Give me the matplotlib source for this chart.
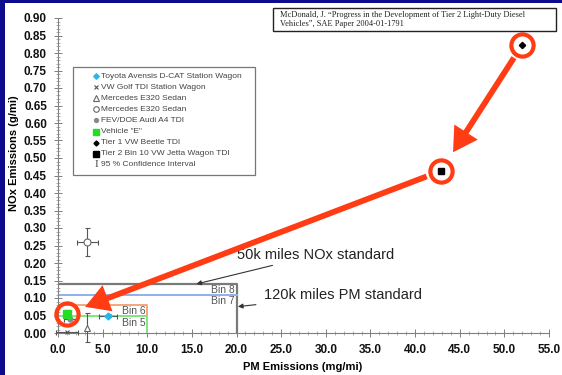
import matplotlib
matplotlib.use("Agg")
import matplotlib.pyplot as plt
from matplotlib.patches import Rectangle
from matplotlib.ticker import MultipleLocator, FormatStrFormatter

plt.rcParams['font.family'] = ['Liberation Sans', 'DejaVu Sans']

# vehicle test results (PM in mg/mi, NOx in g/mi)
vehicles = ['Toyota Avensis D-CAT Station Wagon', 'VW Golf TDI Station Wagon',
            'Mercedes E320 Sedan', 'Mercedes E320 Sedan', 'FEV/DOE Audi A4 TDI',
            'Vehicle "E"', 'Tier 1 VW Beetle TDI', 'Tier 2 Bin 10 VW Jetta Wagon TDI']
pm = [5.6, 1.0, 3.2, 3.3, 1.4, 1.0, 52.0, 42.9]
nox = [0.050, 0.003, 0.015, 0.260, 0.040, 0.055, 0.823, 0.463]
pm_err = [1.0, 1.2, 0.0, 1.2, 0.7, 0.0, 0.0, 0.0]
nox_err = [0.004, 0.0, 0.042, 0.040, 0.0, 0.012, 0.0, 0.0]

# Tier 2 bins: NOx limit (g/mi) and PM limit (mg/mi)
bin_names = ['Bin 8', 'Bin 7', 'Bin 6', 'Bin 5']
bin_nox = [0.14, 0.11, 0.08, 0.05]
bin_pm = [20.0, 20.0, 10.0, 10.0]

styles = [
    dict(marker='D', ms=3.5, mfc='#22b8f0', mec='#22b8f0'),
    dict(marker='x', ms=3.5, mfc='#555555', mec='#555555', mew=0.8),
    dict(marker='^', ms=5, mfc='white', mec='#666666', mew=0.8),
    dict(marker='o', ms=5, mfc='white', mec='#666666', mew=0.8),
    dict(marker='o', ms=3.5, mfc='#888888', mec='#888888'),
    dict(marker='s', ms=6, mfc='#22dd22', mec='#22dd22'),
    dict(marker='D', ms=3.2, mfc='black', mec='black'),
    dict(marker='s', ms=5, mfc='black', mec='black'),
]
bin_colors = ['#7a7a7a', '#8fb0ee', '#f2a878', '#7ee87e']

W, H = 562, 375
fig = plt.figure(figsize=(W / 100, H / 100), dpi=100, facecolor='#0c0c8c')
fig.add_artist(Rectangle((5 / W, 0), 1 - 5 / W, 1 - 3 / H, transform=fig.transFigure,
                         facecolor='white', edgecolor='none', zorder=-1))

ax = fig.add_axes([58 / W, 42 / H, 491 / W, 315 / H])
ax.set_facecolor('none')
ax.set_xlim(0, 55)
ax.set_ylim(0, 0.9)
for s in ['top', 'right']:
    ax.spines[s].set_visible(False)
for s in ['left', 'bottom']:
    ax.spines[s].set_color('#808080')
    ax.spines[s].set_linewidth(0.8)
ax.xaxis.set_major_locator(MultipleLocator(5))
ax.xaxis.set_minor_locator(MultipleLocator(1))
ax.yaxis.set_major_locator(MultipleLocator(0.05))
ax.yaxis.set_minor_locator(MultipleLocator(0.01))
ax.xaxis.set_major_formatter(FormatStrFormatter('%.1f'))
ax.yaxis.set_major_formatter(FormatStrFormatter('%.2f'))
ax.tick_params(which='major', direction='inout', length=6, width=0.7, color='#808080',
               labelsize=8.5, pad=5)
ax.tick_params(which='minor', direction='inout', length=3, width=0.5, color='#909090')
for lab in ax.get_xticklabels() + ax.get_yticklabels():
    lab.set_fontweight('bold')
    lab.set_color('#111111')

fig.text(14 / W, 1 - 153 / H, 'NOx Emissions (g/mi)', rotation=90, ha='center',
         va='center', fontsize=8, fontweight='bold')
fig.text(303 / W, 1 - 367 / H, 'PM Emissions (mg/mi)', ha='center', va='center',
         fontsize=8, fontweight='bold')

# standard boxes
ax.plot([0, bin_pm[0], bin_pm[0]], [bin_nox[0], bin_nox[0], 0], color=bin_colors[0], lw=1.6)
ax.plot([0, bin_pm[1]], [bin_nox[1], bin_nox[1]], color=bin_colors[1], lw=1.4)
ax.plot([0, bin_pm[2], bin_pm[2]], [bin_nox[2], bin_nox[2], bin_nox[3]], color=bin_colors[2], lw=1.4)
ax.plot([0, bin_pm[3], bin_pm[3]], [bin_nox[3], bin_nox[3], 0], color=bin_colors[3], lw=1.4)
bin_font = dict(ha='right', va='top', fontsize=7.5, color='#555555')
ax.text(bin_pm[0] - 0.2, bin_nox[0] - 0.003, bin_names[0], **bin_font)
ax.text(bin_pm[1] - 0.2, bin_nox[1] - 0.005, bin_names[1], **bin_font)
ax.text(bin_pm[2] - 0.2, bin_nox[2] - 0.002, bin_names[2], **bin_font)
ax.text(bin_pm[3] - 0.2, bin_nox[3] - 0.006, bin_names[3], **bin_font)

# vehicles with 95% confidence intervals
for i in range(len(vehicles)):
    xe = pm_err[i] if pm_err[i] > 0 else None
    ye = nox_err[i] if nox_err[i] > 0 else None
    ax.errorbar(pm[i], nox[i], xerr=xe, yerr=ye, fmt='none', ecolor='#555555',
                elinewidth=0.8, capsize=1.8, capthick=0.8, clip_on=False, zorder=3)
    ax.plot(pm[i], nox[i], ls='none', clip_on=False, zorder=4, **styles[i])

# standards call-outs
ax.annotate('50k miles NOx standard', xy=(15.5, bin_nox[0]), xytext=(20.0, 0.223),
            fontsize=10.5, color='#222222', va='center',
            arrowprops=dict(arrowstyle='-|>', color='#333333', lw=0.8, mutation_scale=7,
                            shrinkA=2, shrinkB=0))
ax.annotate('120k miles PM standard', xy=(bin_pm[0], 0.075), xytext=(23.1, 0.108),
            fontsize=10.5, color='#222222', va='center',
            arrowprops=dict(arrowstyle='-|>', color='#333333', lw=0.8, mutation_scale=7,
                            shrinkA=4, shrinkB=1))

# highlight Tier 1 -> Tier 2 Bin 10 -> Vehicle "E"
red = '#ff3c14'
for i in [6, 7, 5]:
    ax.plot(pm[i], nox[i], marker='o', ms=16, mfc='none', mec=red, mew=3.0,
            clip_on=False, zorder=6)
arrow = dict(arrowstyle='-|>,head_length=0.55,head_width=0.32', color=red, lw=4.2,
             mutation_scale=20, joinstyle='miter', capstyle='butt')
ax.annotate('', xy=(pm[7], nox[7]), xytext=(pm[6], nox[6]),
            arrowprops=dict(arrow, shrinkA=11, shrinkB=16), zorder=5)
ax.annotate('', xy=(pm[5], nox[5]), xytext=(pm[7], nox[7]),
            arrowprops=dict(arrow, shrinkA=11, shrinkB=14), zorder=5)

# legend
lx0, ly0, lx1, ly1 = 73, 67, 255, 175
fig.add_artist(Rectangle((lx0 / W, 1 - ly1 / H), (lx1 - lx0) / W, (ly1 - ly0) / H,
                         transform=fig.transFigure, facecolor='white',
                         edgecolor='#777777', lw=0.9, zorder=5))
for i, name in enumerate(vehicles):
    yy = 1 - (76 + i * 11.1) / H
    st = dict(styles[i])
    st['ms'] = st['ms'] * 0.8
    fig.add_artist(plt.Line2D([95.5 / W], [yy], transform=fig.transFigure, ls='none',
                              zorder=6, **st))
    fig.text(101 / W, yy, name, fontsize=6, color='#444444', va='center', zorder=6)
yy = 1 - (76 + 8 * 11.1) / H
fig.text(96 / W, yy, 'I', family='Liberation Serif', fontsize=8, color='#444444',
         ha='center', va='center', zorder=6)
fig.text(101 / W, yy, '95 % Confidence Interval', fontsize=6, color='#444444',
         va='center', zorder=6)

# reference box
fig.add_artist(Rectangle((273 / W, 1 - 31 / H), 283 / W, 23 / H, transform=fig.transFigure,
                         facecolor='white', edgecolor='#222222', lw=1.0, zorder=5))
fig.text(280 / W, 1 - 19.5 / H,
         'McDonald, J. \u201cProgress in the Development of Tier 2 Light-Duty Diesel\n'
         'Vehicles\u201d, SAE Paper 2004-01-1791',
         family='Liberation Serif', fontsize=6.0, color='#222222', va='center',
         linespacing=1.3, zorder=6)

fig.savefig('out.png', dpi=100, facecolor=fig.get_facecolor())
